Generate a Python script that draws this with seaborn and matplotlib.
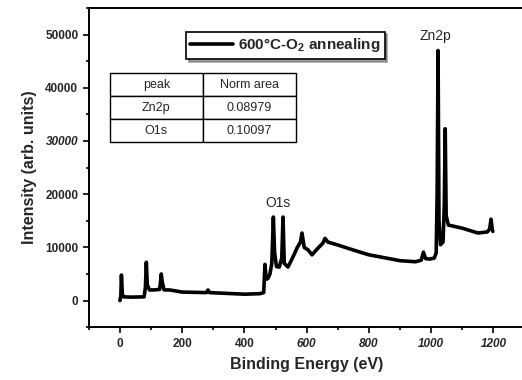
import matplotlib
matplotlib.use("Agg")
import matplotlib.pyplot as plt
from matplotlib.ticker import MultipleLocator
import seaborn as sns
import pandas as pd

# XPS survey spectrum
energy = [0, 3, 5, 8, 12, 40, 78, 82, 85, 88, 95, 110, 128, 133, 136, 142, 160,
          200, 278, 283, 288, 400, 450, 462, 466, 470, 476, 482, 488, 493, 497,
          503, 512, 520, 524, 528, 540, 556, 570, 580, 585, 592, 605, 617, 637,
          652, 659, 668, 697, 750, 800, 900, 950, 968, 975, 982, 995, 1010,
          1016, 1019, 1022, 1025, 1030, 1038, 1042, 1045, 1048, 1055, 1100,
          1150, 1180, 1188, 1192, 1196, 1198]
intensity = [0, 800, 4800, 1200, 700, 650, 700, 2500, 7200, 3000, 2000, 2000,
             2100, 5000, 3500, 2000, 2000, 1600, 1500, 2000, 1500, 1200, 1300,
             1500, 6800, 4000, 4200, 5000, 7000, 15700, 9000, 6400, 6300, 8000,
             15700, 7000, 6300, 8200, 10000, 11000, 12700, 10000, 9500, 8600,
             9900, 10800, 11700, 11000, 10500, 9500, 8600, 7500, 7300, 7600,
             9100, 7900, 7800, 8000, 9000, 20000, 47000, 15000, 10500, 11000,
             18000, 32300, 16000, 14200, 13600, 12700, 12900, 13500, 15300,
             13400, 13000]

table_rows = [["peak", "Norm area"], ["Zn2p", "0.08979"], ["O1s", "0.10097"]]

df = pd.DataFrame({"energy": energy, "intensity": intensity})

sns.set_style("ticks")
plt.rcParams["font.family"] = ["Liberation Sans", "DejaVu Sans"]
plt.rcParams["mathtext.fontset"] = "custom"
plt.rcParams["mathtext.bf"] = "Liberation Sans:bold"
plt.rcParams["mathtext.rm"] = "Liberation Sans"

fig = plt.figure(figsize=(5.22, 3.80), dpi=100)
ax = fig.add_axes([0.170, 0.139, 0.835, 0.840])

sns.lineplot(data=df, x="energy", y="intensity", color="black", lw=2.6,
             label="600°C-O$_\\mathbf{2}$ annealing", ax=ax)

ax.set_xlim(-100, 1300)
ax.set_ylim(-5000, 55000)
ax.xaxis.set_major_locator(MultipleLocator(200))
ax.xaxis.set_minor_locator(MultipleLocator(100))
ax.yaxis.set_major_locator(MultipleLocator(10000))
ax.yaxis.set_minor_locator(MultipleLocator(5000))
ax.tick_params(which="both", direction="out", width=1.2, color="black")
ax.tick_params(which="major", length=4, labelsize=8.5)
ax.tick_params(which="minor", length=2.5)
fig.canvas.draw()
for lab in ax.get_xticklabels():
    lab.set_fontweight("bold")
    if lab.get_position()[0] >= 600:
        lab.set_fontstyle("italic")
for lab in ax.get_yticklabels():
    lab.set_fontweight("bold")
    if lab.get_position()[1] == 30000:
        lab.set_fontstyle("italic")

for s in ["left", "bottom", "top"]:
    ax.spines[s].set_linewidth(1.4)
    ax.spines[s].set_color("black")
ax.spines["right"].set_visible(False)

ax.set_xlabel("Binding Energy (eV)", fontsize=11.5, fontweight="bold", labelpad=5)
ax.set_ylabel("Intensity (arb. units)", fontsize=11.5, fontweight="bold", labelpad=6)

ax.text(508, 17000, "O1s", fontsize=10, ha="center", va="bottom")
ax.text(1012, 48500, "Zn2p", fontsize=10, ha="center", va="bottom")

leg = ax.legend(loc="upper left", bbox_to_anchor=(0.205, 0.95), frameon=True,
                fancybox=False, shadow=True, edgecolor="black",
                prop={"weight": "bold", "size": 11}, handlelength=2.8,
                borderpad=0.3, handletextpad=0.3)
leg.get_frame().set_linewidth(1.2)
for h in leg.legend_handles:
    h.set_linewidth(2.6)

tb = ax.table(cellText=table_rows, cellLoc="center",
              bbox=[0.048, 0.58, 0.428, 0.216])
tb.auto_set_font_size(False)
tb.set_fontsize(9)
for cell in tb.get_celld().values():
    cell.set_linewidth(1.0)
    cell.set_edgecolor("black")

fig.savefig("out.png", dpi=100)
